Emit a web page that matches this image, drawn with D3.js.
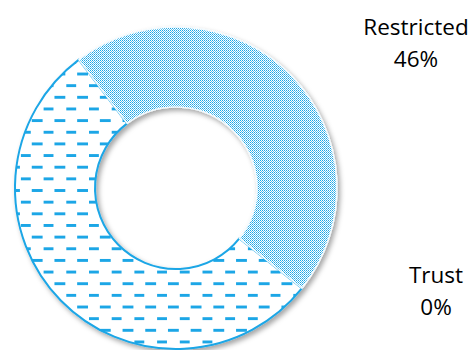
<!DOCTYPE html>
<html>
<head>
<meta charset="utf-8">
<script src="https://cdn.jsdelivr.net/npm/d3@7"></script>
<style>
  html, body { margin: 0; padding: 0; background: #fff; overflow: hidden; }
  svg { display: block; }
</style>
</head>
<body>
<svg id="chart" width="475" height="350"></svg>
<script>
// ---- data ----
const categories = ["Restricted", "Trust", "Open"];
const values = [46, 0, 54];
const percentLabels = ["46%", "0%", "54%"];
const shownLabels = ["Restricted", "Trust"];

// ---- layout ----
const W = 475, H = 350;
const cx = 176, cy = 188;
const outerR = 161, innerR = 81;
const blue = "#1BA6E6";

const svg = d3.select("#chart");
const defs = svg.append("defs");

// dotted (checker) pattern
const pDot = defs.append("pattern")
  .attr("id", "dots").attr("patternUnits", "userSpaceOnUse")
  .attr("width", 2).attr("height", 2);
pDot.append("rect").attr("width", 2).attr("height", 2).attr("fill", "#fff");
pDot.append("rect").attr("x", 0).attr("y", 0).attr("width", 1).attr("height", 1).attr("fill", blue).attr("shape-rendering", "crispEdges");
pDot.append("rect").attr("x", 1).attr("y", 1).attr("width", 1).attr("height", 1).attr("fill", "#5ec2ee").attr("shape-rendering", "crispEdges");

// dashed horizontal pattern
const dw = 22.7, dh = 23.3;
const pDash = defs.append("pattern")
  .attr("id", "dashes").attr("patternUnits", "userSpaceOnUse")
  .attr("x", 26.5).attr("y", 152.5)
  .attr("width", dw).attr("height", dh);
pDash.append("rect").attr("width", dw).attr("height", dh).attr("fill", "#fff");
pDash.append("rect").attr("x", 0).attr("y", 0).attr("width", 10).attr("height", 3).attr("fill", blue).attr("shape-rendering", "crispEdges");
pDash.append("rect").attr("x", dw / 2).attr("y", dh / 2).attr("width", 10).attr("height", 3).attr("fill", blue).attr("shape-rendering", "crispEdges");

// shadow
const f = defs.append("filter").attr("id", "shadow")
  .attr("x", "-20%").attr("y", "-20%").attr("width", "140%").attr("height", "140%");
f.append("feDropShadow").attr("dx", 2.5).attr("dy", 3).attr("stdDeviation", 2.5)
  .attr("flood-color", "#000").attr("flood-opacity", 0.35);

const fills = { "Restricted": "url(#dots)", "Trust": "#fff", "Open": "url(#dashes)" };

const pie = d3.pie().sort(null).value(d => d.value)
  .startAngle(-37.1 * Math.PI / 180)
  .endAngle((360 - 37.1) * Math.PI / 180);
const data = categories.map((c, i) => ({ name: c, value: values[i], pct: percentLabels[i] }));
const arcs = pie(data);
const arc = d3.arc().innerRadius(innerR).outerRadius(outerR);

const g = svg.append("g").attr("transform", `translate(${cx},${cy})`).attr("filter", "url(#shadow)");

const order = ["Open", "Trust", "Restricted"];
order.forEach(name => {
  const a = arcs.find(d => d.data.name === name);
  if (a.data.value === 0) return;
  g.append("path")
    .attr("d", arc(a))
    .attr("fill", fills[name])
    .attr("stroke", name === "Open" ? blue : "#f2fafe")
    .attr("stroke-width", name === "Open" ? 2 : 1.5)
    .attr("stroke-linejoin", "round");
});

// ---- labels ----
const labelPos = {
  "Restricted": { x: 416, y: 35 },
  "Trust": { x: 436, y: 283 }
};
const lg = svg.append("g")
  .attr("font-family", "'Open Sans', sans-serif")
  .attr("font-size", 22.5)
  .attr("fill", "#000")
  .attr("text-anchor", "middle");
arcs.filter(a => shownLabels.includes(a.data.name)).forEach(a => {
  const p = labelPos[a.data.name];
  const t = lg.append("text").attr("x", p.x).attr("y", p.y);
  t.append("tspan").attr("x", p.x).attr("dy", 0).text(a.data.name);
  t.append("tspan").attr("x", p.x).attr("dy", 32).text(a.data.pct);
});
</script>
</body>
</html>
